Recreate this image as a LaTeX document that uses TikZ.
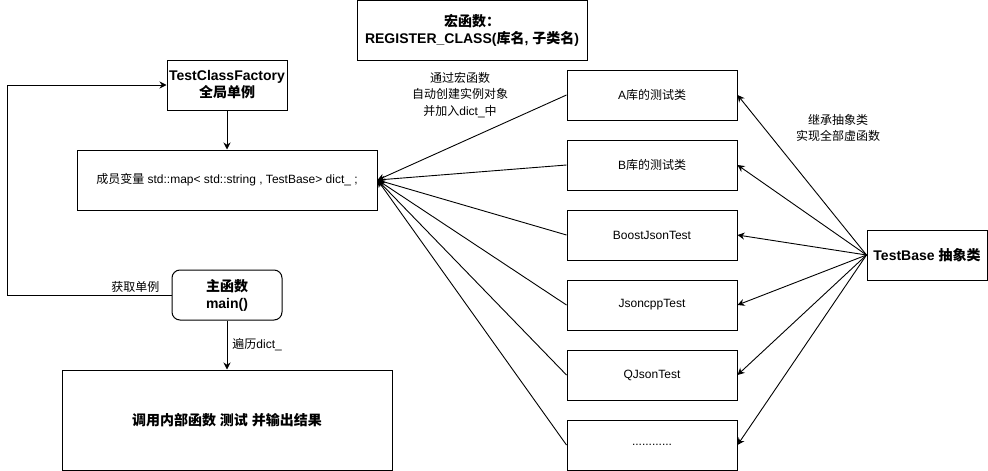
\documentclass[tikz,border=0pt]{standalone}
\usepackage{fontspec}
\setmainfont{Liberation Sans}
\newfontfamily\cjk{Noto Sans CJK SC}
\usetikzlibrary{arrows.meta,positioning}

% Chinese characters are set in the CJK font
\XeTeXinterchartokenstate=1
\newXeTeXintercharclass\hanclass
\newcount\hanchar
\hanchar="4E00
\loop
  \XeTeXcharclass\hanchar=\hanclass
  \ifnum\hanchar<"9FFF \advance\hanchar by 1 \repeat
\hanchar="3000
\loop
  \XeTeXcharclass\hanchar=\hanclass
  \ifnum\hanchar<"303F \advance\hanchar by 1 \repeat
\hanchar="FF00
\loop
  \XeTeXcharclass\hanchar=\hanclass
  \ifnum\hanchar<"FFEF \advance\hanchar by 1 \repeat
\XeTeXinterchartoks 0 \hanclass = {\begingroup\cjk}
\XeTeXinterchartoks 4095 \hanclass = {\begingroup\cjk}
\XeTeXinterchartoks \hanclass 0 = {\endgroup}
\XeTeXinterchartoks \hanclass 4095 = {\endgroup}

\begin{document}
\begin{tikzpicture}[
    x=1pt, y=-1pt,
    node distance=19pt,
    font=\fontsize{12}{15}\selectfont,
    box/.style={rectangle, draw, line width=1pt, fill=white,
                minimum width=170pt, minimum height=50pt, align=center, inner sep=2pt},
    bold/.style={font=\fontsize{14}{17}\selectfont\bfseries},
    lbl/.style={align=center, inner sep=2pt, font=\fontsize{12}{16.5}\selectfont},
    arrow/.style={-{Stealth[length=7pt,width=7pt]}, line width=0.9pt}
]
\useasboundingbox (0,0) rectangle (988,471);

\node[box, bold, minimum width=230pt, minimum height=60pt] (macro) at (472,30) {宏函数：\\REGISTER\_CLASS(库名, 子类名)};

\node[box, bold, minimum width=120pt] (factory) at (227,85) {TestClassFactory\\全局单例};
\node[box, minimum width=300pt, minimum height=60pt] (dict) at (227,180) {成员变量 std::map< std::string , TestBase> dict\_ ;};
\node[box, bold, rounded corners=8pt, minimum width=110pt] (mainfn) at (227,295) {主函数\\main()};
\node[box, bold, minimum width=330pt, minimum height=100pt] (result) at (227,420) {调用内部函数 测试 并输出结果};

\node[box] (clsA) at (652,95) {A库的测试类};
\node[box, below=of clsA] (clsB) {B库的测试类};
\node[box, below=of clsB] (boost) {BoostJsonTest};
\node[box, below=of boost] (jsoncpp) {JsoncppTest};
\node[box, below=of jsoncpp] (qjson) {QJsonTest};
\node[box, below=of qjson] (more) {............};

\node[box, bold, minimum width=120pt] (base) at (927,255) {TestBase 抽象类};

\node[lbl] (macrolbl) at (460,95) {通过宏函数\\自动创建实例对象\\并加入dict\_中};
\node[lbl] (inheritlbl) at (838,128) {继承抽象类\\实现全部虚函数};

\foreach \name in {clsA,clsB,boost,jsoncpp,qjson,more} {
    \draw[arrow] (\name.west) -- (dict.east);
    \draw[arrow] (base.west) -- (\name.east);
}

\draw[arrow] (factory) -- (dict);
\draw[arrow] (mainfn) -- node[lbl, right, xshift=3pt] {遍历dict\_} (result);

\coordinate (loopturn) at (7,295);
\draw[arrow] (mainfn.west) -- node[lbl, above, pos=0.22] {获取单例} (loopturn) |- (factory.west);

\end{tikzpicture}
\end{document}
